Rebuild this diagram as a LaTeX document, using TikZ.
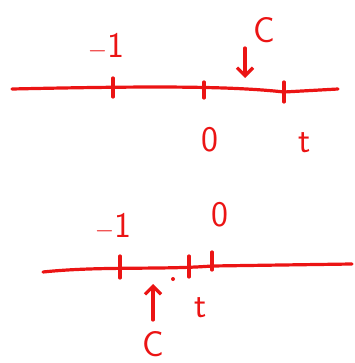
\documentclass[tikz,border=0pt]{standalone}
\usepackage{tikz}
\usetikzlibrary{positioning, calc, arrows.meta}
\definecolor{penred}{RGB}{235,20,20}
\tikzset{
    pen/.style={draw=penred, line width=3.2pt, line cap=round},
    tickmark/.style={pen},
    lbl/.style={text=penred, font=\sffamily\fontsize{36}{38}\selectfont, inner sep=0pt},
    pointer/.style={pen, -{Straight Barb[length=8pt, width=16pt]}}
}
\begin{document}
\begin{tikzpicture}[x=1pt, y=-1pt]
    \useasboundingbox (0,0) rectangle (354,363);

    % --- TOP: number line ---
    \coordinate (tl) at (12,89);
    \coordinate (tr) at (338,89);
    \draw[pen] (tl) .. controls (150,86) and (230,86) .. (284,92) -- (tr);

    % Ticks
    \draw[tickmark] (113,78) -- (113,97);
    \draw[tickmark] (204,82) -- (204,98);
    \draw[tickmark] (284,82) -- (284,102);

    % Labels
    \node[lbl] (tm1) at (106,46) {$-$1};
    \node[lbl] (tzero) at (210,140) {0};
    \node[lbl] (tt) at (305,143) {t};
    \node[lbl] (tc) at (264,30) {C};
    \coordinate (tcend) at (245,78);
    \draw[pointer] (245,48) -- (tcend);

    % --- BOTTOM: number line ---
    \coordinate (bl) at (43,272);
    \coordinate (br) at (352,264);
    \draw[pen] (bl) .. controls (100,266) and (160,270) .. (212,266) -- (br);

    % Ticks
    \draw[tickmark] (120,256) -- (120,278);
    \draw[tickmark] (189,256) -- (189,277);
    \draw[tickmark] (212,252) -- (212,270);

    % Labels
    \node[lbl] (bm1) at (113,226) {$-$1};
    \node[lbl] (bzero) at (220,215) {0};
    \node[lbl] (bt) at (201,308) {t};
    \node[lbl] (bc) at (153,344) {C};
    \fill[penred] (173,279) circle (2);
    \coordinate (bcend) at (153,284);
    \draw[pointer] (153,320) -- (bcend);

\end{tikzpicture}
\end{document}
